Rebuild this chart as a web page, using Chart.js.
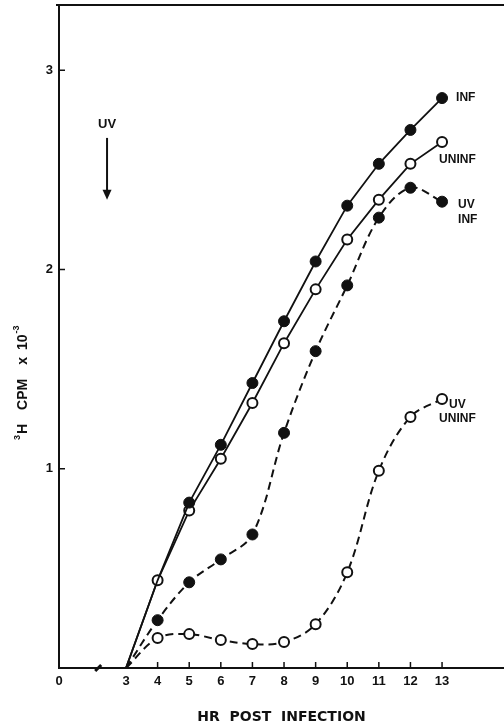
<!DOCTYPE html>
<html>
<head>
<meta charset="utf-8">
<script src="https://cdn.jsdelivr.net/npm/chart.js@4.4.0/dist/chart.umd.min.js"></script>
<style>
  html, body { margin: 0; padding: 0; background: #fff; }
  #wrap { width: 504px; height: 726px; }
</style>
</head>
<body>
<div id="wrap"><canvas id="grafico"></canvas></div>
<script>
// horas pos-infeccao e contagens (3H cpm x 10^-3)
const horas = [3, 4, 5, 6, 7, 8, 9, 10, 11, 12, 13]
const inf = [0, 0.44, 0.83, 1.12, 1.43, 1.74, 2.04, 2.32, 2.53, 2.70, 2.86]
const uninf = [0, 0.44, 0.79, 1.05, 1.33, 1.63, 1.90, 2.15, 2.35, 2.53, 2.64]
const uvInf = [0, 0.24, 0.43, 0.545, 0.67, 1.18, 1.59, 1.92, 2.26, 2.41, 2.34]
const uvUninf = [0, 0.15, 0.17, 0.14, 0.12, 0.13, 0.22, 0.48, 0.99, 1.26, 1.35]

const ticksX = [3, 4, 5, 6, 7, 8, 9, 10, 11, 12, 13]
const ticksY = [1, 2, 3]
const xMin = 0.88
const xMax = 14.96
const yMax = 3.327

const tinta = '#111'
const fonteTexto = '"Liberation Sans", Arial, sans-serif'

function pontos(valores){
    return horas.map((h, i) => ({x: h, y: valores[i]}))
}

function raios(r, pular){
    return horas.map((h, i) => (i < pular ? 0 : r))
}

function serie(valores, cheio, tracejado, pular){
    return {
        data: pontos(valores),
        borderColor: tinta,
        borderWidth: tracejado ? 2 : 1.8,
        borderDash: tracejado ? [8, 5] : [],
        tension: tracejado ? 0.35 : 0,
        pointRadius: raios(cheio ? 5.5 : 5, pular),
        pointBackgroundColor: cheio ? tinta : '#fff',
        pointBorderColor: tinta,
        pointBorderWidth: cheio ? 1 : 2,
        fill: false
    }
}

function semFolga(scale){
    scale.paddingLeft = 0
    scale.paddingRight = 0
    scale.paddingTop = 0
    scale.paddingBottom = 0
}

const decoracao = {
    id: 'decoracao',
    afterDraw(chart){
        const ctx = chart.ctx
        const area = chart.chartArea
        const x = chart.scales.x
        const y = chart.scales.y
        ctx.save()
        ctx.strokeStyle = tinta
        ctx.fillStyle = tinta

        // linha de cima da moldura
        ctx.lineWidth = 2
        ctx.beginPath()
        ctx.moveTo(area.left - 3, area.top)
        ctx.lineTo(area.right, area.top)
        ctx.stroke()

        // marcas para dentro
        ctx.lineWidth = 1.5
        ctx.beginPath()
        ticksX.forEach(v => {
            if (v === 3) return
            const px = x.getPixelForValue(v)
            ctx.moveTo(px, area.bottom)
            ctx.lineTo(px, area.bottom - 6)
        })
        ticksY.forEach(v => {
            const py = y.getPixelForValue(v)
            ctx.moveTo(area.left, py)
            ctx.lineTo(area.left + 6, py)
        })
        ctx.stroke()

        // quebra do eixo
        const qx = x.getPixelForValue(2.12)
        ctx.lineWidth = 3
        ctx.beginPath()
        ctx.moveTo(qx - 3, area.bottom + 3)
        ctx.lineTo(qx + 3, area.bottom - 3)
        ctx.stroke()

        // seta UV
        const ax = x.getPixelForValue(2.4)
        const aTopo = y.getPixelForValue(2.66)
        const aFim = y.getPixelForValue(2.35)
        ctx.lineWidth = 2
        ctx.beginPath()
        ctx.moveTo(ax, aTopo)
        ctx.lineTo(ax, aFim - 8)
        ctx.stroke()
        ctx.beginPath()
        ctx.moveTo(ax - 4.5, aFim - 10)
        ctx.lineTo(ax + 4.5, aFim - 10)
        ctx.lineTo(ax, aFim)
        ctx.closePath()
        ctx.fill()

        ctx.font = 'bold 13px ' + fonteTexto
        ctx.textAlign = 'center'
        ctx.textBaseline = 'middle'
        ctx.fillText('UV', ax, y.getPixelForValue(2.73))

        // rotulos das curvas
        ctx.font = 'bold 12px ' + fonteTexto
        ctx.textAlign = 'left'
        const ultimo = horas.length - 1
        const px = x.getPixelForValue(horas[ultimo])
        let py = y.getPixelForValue(inf[ultimo])
        ctx.fillText('INF', px + 14, py)
        py = y.getPixelForValue(uninf[ultimo])
        ctx.fillText('UNINF', px - 3, py + 18)
        py = y.getPixelForValue(uvInf[ultimo])
        ctx.fillText('UV', px + 16, py + 3)
        ctx.fillText('INF', px + 16, py + 18)
        py = y.getPixelForValue(uvUninf[ultimo])
        ctx.fillText('UV', px + 7, py + 6)
        ctx.fillText('UNINF', px - 3, py + 20)

        // titulo do eixo y, girado, com expoentes
        ctx.translate(27, 440)
        ctx.rotate(-Math.PI / 2)
        ctx.textBaseline = 'alphabetic'
        let cx = 0
        const partes = [
            ['3', 9, -7, 1],
            ['H', 14, 0, 14],
            ['CPM', 14, 0, 14],
            ['x', 14, 0, 7],
            ['10', 14, 0, 1],
            ['-3', 9, -8, 0]
        ]
        partes.forEach(p => {
            ctx.font = 'bold ' + p[1] + 'px ' + fonteTexto
            ctx.fillText(p[0], cx, p[2])
            cx += ctx.measureText(p[0]).width + p[3]
        })
        ctx.restore()
    }
}

const grafico = new Chart(document.getElementById('grafico'), {
    type: 'line',
    data: {
        datasets: [
            serie(inf, true, false, 2),
            serie(uninf, false, false, 1),
            serie(uvInf, true, true, 1),
            serie(uvUninf, false, true, 1)
        ]
    },
    options: {
        responsive: true,
        maintainAspectRatio: false,
        animation: false,
        layout: { autoPadding: false, padding: { top: 5, right: 0, bottom: 0, left: 0 } },
        plugins: {
            legend: { display: false },
            tooltip: { enabled: false }
        },
        scales: {
            x: {
                type: 'linear',
                min: xMin,
                max: xMax,
                afterBuildTicks: scale => {
                    scale.ticks = [{value: xMin}].concat(ticksX.map(v => ({value: v})))
                },
                afterFit: scale => {
                    scale.height = 58
                    semFolga(scale)
                },
                grid: { display: false, drawTicks: false },
                border: { display: true, color: tinta, width: 2 },
                ticks: {
                    padding: 6,
                    color: tinta,
                    autoSkip: false,
                    maxRotation: 0,
                    font: { family: fonteTexto, size: 13, weight: 'bold' },
                    callback: v => (v === xMin ? '0' : String(v))
                },
                title: {
                    display: true,
                    text: 'HR  POST  INFECTION',
                    color: tinta,
                    font: { family: '"DejaVu Sans"', size: 14, weight: 'bold' },
                    padding: { top: 0, bottom: 0 }
                }
            },
            y: {
                min: 0,
                max: yMax,
                afterBuildTicks: scale => {
                    scale.ticks = ticksY.map(v => ({value: v}))
                },
                afterFit: scale => {
                    scale.width = 59
                    semFolga(scale)
                },
                grid: { display: false, drawTicks: false },
                border: { display: true, color: tinta, width: 2 },
                ticks: {
                    padding: 6,
                    color: tinta,
                    font: { family: fonteTexto, size: 13, weight: 'bold' }
                }
            }
        }
    },
    plugins: [decoracao]
})
</script>
</body>
</html>
